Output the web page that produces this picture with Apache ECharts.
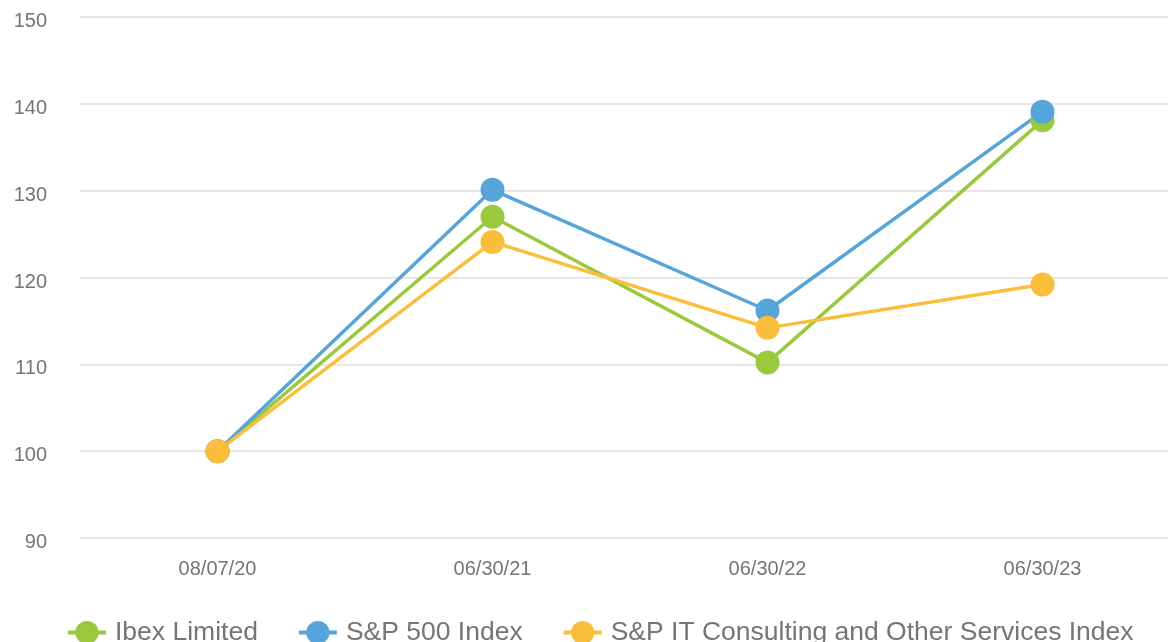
<!DOCTYPE html>
<html>
<head>
<meta charset="utf-8">
<script src="https://cdn.jsdelivr.net/npm/echarts@6/dist/echarts.min.js"></script>
<style>
html,body{margin:0;padding:0;background:#fff;overflow:hidden;width:1168px;height:642px;}
#chart{width:1200px;height:642px;}
</style>
</head>
<body>
<div id="chart"></div>
<script>
var categories = ['08/07/20', '06/30/21', '06/30/22', '06/30/23'];
var ibex = [100, 127, 110.2, 138.1];
var sp500 = [100, 130.1, 116.2, 139.1];
var spIT = [100, 124.1, 114.2, 119.2];
var seriesNames = ['Ibex Limited', 'S&P 500 Index', 'S&P IT Consulting and Other Services Index'];
var yTicks = {min: 90, max: 150, interval: 10};

var colors = ['#9ACA3C', '#55A5DB', '#FBBE3A'];
var textColor = '#757575';
var font = 'Liberation Sans, Arial, sans-serif';

function mkSeries(name, data, color) {
  return {
    name: name,
    type: 'line',
    data: data,
    symbol: 'circle',
    symbolSize: 24,
    lineStyle: {width: 3.5, color: color},
    itemStyle: {color: color},
    emphasis: {disabled: true},
    animation: false
  };
}

var chart = echarts.init(document.getElementById('chart'), null, {renderer: 'canvas'});
chart.setOption({
  animation: false,
  color: colors,
  grid: {left: 80, top: 17, width: 1100, height: 521, containLabel: false},
  xAxis: {
    type: 'category',
    data: categories,
    boundaryGap: true,
    axisLine: {show: false},
    axisTick: {show: false},
    axisLabel: {color: textColor, fontSize: 20, fontFamily: font, margin: 21}
  },
  yAxis: {
    type: 'value',
    min: yTicks.min,
    max: yTicks.max,
    interval: yTicks.interval,
    axisLine: {show: false},
    axisTick: {show: false},
    axisLabel: {color: textColor, fontSize: 20, fontFamily: font, margin: 33, verticalAlign: 'top', lineHeight: 9},
    splitLine: {lineStyle: {color: '#E6E6E6', width: 2}}
  },
  legend: {
    data: seriesNames,
    left: 61,
    top: 614,
    itemWidth: 38,
    itemHeight: 29,
    itemGap: 39,
    lineStyle: {width: 4},
    textStyle: {color: textColor, fontSize: 26.5, fontFamily: font, padding: [0, 0, 0, 4]}
  },
  series: [
    mkSeries(seriesNames[0], ibex, colors[0]),
    mkSeries(seriesNames[1], sp500, colors[1]),
    mkSeries(seriesNames[2], spIT, colors[2])
  ]
});
</script>
</body>
</html>
